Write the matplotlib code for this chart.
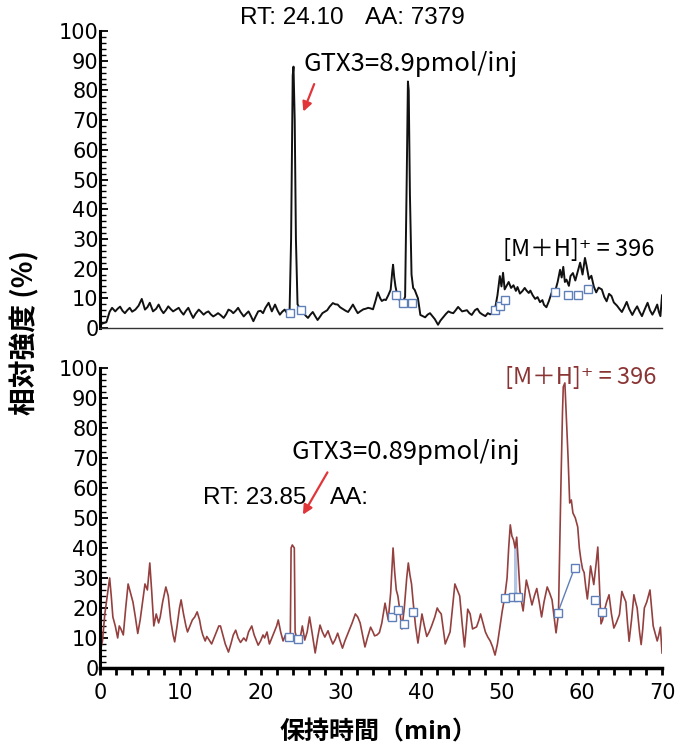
import matplotlib
matplotlib.use('Agg')
import matplotlib.pyplot as plt
from matplotlib.ticker import MultipleLocator

# Top trace: GTX3 8.9 pmol/inj, [M+H]+ = 396 (time in min, relative intensity in %)
top_time = [0.3, 0.8, 1.2, 1.5, 1.9, 2.2, 2.5, 2.8, 3.1, 3.4, 3.7, 4.0, 4.4, 4.8, 5.2, 5.6, 5.9, 6.2, 6.6, 7.0,
            7.3, 7.6, 7.9, 8.2, 8.5, 8.8, 9.1, 9.5, 9.8, 10.1, 10.4, 10.7, 11.0, 11.3, 11.6, 11.9, 12.3, 12.6, 12.9, 13.2,
            13.5, 13.8, 14.1, 14.4, 14.7, 15.0, 15.4, 15.7, 16.0, 16.3, 16.6, 16.9, 17.2, 17.5, 17.9, 18.2, 18.5, 18.8, 19.1, 19.4,
            19.7, 20.0, 20.3, 20.6, 21.0, 21.4, 21.8, 22.1, 22.4, 22.7, 23.0, 23.3, 23.6, 23.8, 24.0, 24.1, 24.25, 24.4, 24.6, 24.9,
            25.3, 25.6, 25.9, 26.2, 26.5, 26.8, 27.1, 27.4, 27.7, 28.0, 28.3, 28.6, 29.0, 29.3, 29.6, 29.9, 30.3, 30.6, 30.9, 31.2,
            31.5, 31.8, 32.1, 32.4, 32.8, 33.1, 33.4, 33.7, 34.0, 34.3, 34.6, 34.9, 35.1, 35.4, 35.6, 35.9, 36.2, 36.4, 36.5, 36.65,
            36.8, 37.1, 37.4, 37.7, 38.0, 38.2, 38.35, 38.45, 38.6, 38.8, 39.0, 39.2, 39.6, 39.9, 40.2, 40.5, 40.8, 41.1, 41.4, 41.7,
            42.1, 42.4, 42.8, 43.1, 43.4, 43.7, 44.0, 44.3, 44.6, 44.9, 45.1, 45.4, 45.7, 46.0, 46.3, 46.7, 47.0, 47.3, 47.6, 48.0,
            48.3, 48.6, 48.9, 49.2, 49.5, 49.8, 50.0, 50.2, 50.4, 50.6, 50.9, 51.2, 51.5, 51.8, 52.0, 52.3, 52.6, 52.9, 53.1, 53.4,
            53.6, 53.9, 54.2, 54.5, 54.8, 55.1, 55.3, 55.6, 55.9, 56.2, 56.4, 56.7, 57.0, 57.3, 57.5, 57.7, 57.9, 58.1, 58.4, 58.6,
            58.9, 59.2, 59.5, 59.8, 60.1, 60.4, 60.6, 60.9, 61.2, 61.5, 61.8, 62.1, 62.5, 62.8, 63.1, 63.4, 63.7, 64.0, 64.4, 64.7,
            65.0, 65.3, 65.6, 65.9, 66.3, 66.6, 66.9, 67.2, 67.5, 67.8, 68.2, 68.5, 68.8, 69.1, 69.4, 69.6, 69.8, 70.0]
top_int = [1.5, 2.0, 5.5, 6.8, 5.6, 6.5, 7.2, 5.8, 5.0, 6.0, 6.8, 5.5, 6.2, 7.5, 9.8, 6.2, 7.0, 8.5, 5.6, 6.5,
           7.9, 6.2, 5.0, 6.0, 7.3, 6.4, 5.6, 6.3, 6.8, 5.5, 4.5, 5.8, 6.8, 5.0, 3.4, 4.8, 6.2, 5.4, 4.5, 5.2,
           5.6, 4.6, 3.9, 4.4, 5.0, 4.4, 3.4, 4.6, 6.2, 5.8, 5.0, 5.8, 6.8, 5.4, 3.9, 4.8, 5.6, 4.0, 2.3, 4.0,
           5.6, 5.8, 5.0, 6.8, 8.5, 5.6, 7.9, 6.0, 4.5, 5.5, 6.2, 5.0, 4.5, 30.0, 85.0, 88.0, 70.0, 30.0, 8.0, 6.5,
           5.4, 4.2, 3.4, 4.5, 5.4, 4.0, 2.7, 3.8, 5.0, 5.5, 6.0, 7.2, 8.4, 8.0, 7.9, 7.0, 6.3, 5.8, 5.4, 6.6,
           7.9, 6.4, 5.0, 5.6, 6.3, 6.5, 6.8, 6.6, 6.3, 9.0, 12.0, 10.0, 9.1, 9.6, 9.4, 11.0, 12.9, 19.0, 21.3, 17.0,
           14.0, 10.0, 9.2, 8.7, 10.5, 50.0, 83.0, 80.0, 45.0, 18.0, 13.5, 12.8, 10.0, 4.4, 4.0, 3.6, 4.5, 5.0, 4.0, 3.0,
           1.1, 2.5, 3.8, 4.8, 5.6, 5.2, 5.0, 6.0, 7.1, 6.2, 5.6, 5.8, 6.0, 5.0, 4.4, 6.0, 6.5, 5.2, 4.6, 4.0,
           5.0, 4.6, 5.0, 6.5, 11.0, 17.5, 14.0, 18.6, 13.0, 14.0, 15.5, 13.5, 14.4, 12.5, 13.8, 11.6, 12.4, 13.5, 12.7, 11.8,
           12.6, 11.0, 9.8, 10.4, 8.7, 9.4, 7.8, 7.0, 9.0, 11.5, 12.8, 12.5, 15.5, 19.6, 17.0, 20.6, 15.5, 16.3, 14.2, 17.5,
           18.5, 16.0, 19.0, 22.0, 18.0, 23.6, 21.0, 16.5, 17.6, 14.0, 12.0, 13.6, 13.0, 10.5, 9.0, 11.5, 10.8, 8.6, 7.5, 6.4,
           5.4, 7.0, 8.8, 6.5, 4.4, 6.0, 7.3, 5.5, 4.0, 6.0, 8.5, 6.0, 4.5, 6.0, 7.9, 5.5, 4.0, 11.0]
top_mark_time = [23.7, 25.0, 36.9, 37.7, 38.9, 49.2, 49.8, 50.4, 56.7, 58.3, 59.5, 60.8]
top_mark_int = [5.0, 6.2, 11.0, 8.5, 8.5, 6.0, 7.4, 9.5, 12.0, 11.0, 11.0, 13.0]

# Bottom trace: GTX3 0.89 pmol/inj
bot_time = [0.0, 0.3, 0.6, 0.9, 1.2, 1.4, 1.6, 1.9, 2.2, 2.4, 2.6, 2.9, 3.2, 3.5, 3.8, 4.1, 4.4, 4.7, 5.0, 5.3,
            5.6, 5.9, 6.2, 6.45, 6.7, 7.0, 7.3, 7.5, 7.8, 8.2, 8.5, 8.8, 9.1, 9.3, 9.6, 9.9, 10.1, 10.4, 10.7, 10.9,
            11.2, 11.5, 11.8, 12.1, 12.4, 12.6, 12.8, 13.1, 13.3, 13.6, 13.9, 14.2, 14.5, 14.8, 15.0, 15.3, 15.6, 16.0, 16.3, 16.6,
            16.9, 17.2, 17.5, 17.9, 18.2, 18.5, 18.9, 19.2, 19.5, 19.7, 20.0, 20.3, 20.5, 20.8, 21.1, 21.4, 21.7, 22.0, 22.2, 22.5,
            22.8, 23.1, 23.4, 23.7, 23.8, 23.95, 24.2, 24.3, 24.5, 24.7, 25.0, 25.2, 25.5, 25.8, 26.1, 26.4, 26.8, 27.1, 27.4, 27.7,
            28.0, 28.4, 28.7, 29.0, 29.3, 29.6, 29.9, 30.2, 30.5, 30.8, 31.1, 31.4, 31.8, 32.1, 32.4, 32.7, 33.0, 33.3, 33.7, 34.0,
            34.2, 34.5, 34.8, 35.1, 35.5, 35.9, 36.2, 36.5, 36.7, 36.9, 37.1, 37.3, 37.6, 37.9, 38.2, 38.4, 38.6, 38.8, 39.0, 39.3,
            39.6, 39.9, 40.1, 40.4, 40.7, 41.0, 41.3, 41.7, 42.0, 42.2, 42.5, 42.8, 43.0, 43.3, 43.6, 43.9, 44.2, 44.5, 44.8, 45.1,
            45.4, 45.6, 45.8, 46.1, 46.4, 46.9, 47.2, 47.4, 47.8, 48.0, 48.3, 48.6, 48.9, 49.2, 49.5, 49.8, 50.1, 50.4, 50.7, 50.9,
            51.1, 51.3, 51.5, 51.7, 51.9, 52.1, 52.3, 52.5, 52.7, 52.9, 53.1, 53.4, 53.8, 54.1, 54.4, 54.7, 55.0, 55.3, 55.7, 56.0,
            56.3, 56.6, 56.8, 57.1, 57.4, 57.6, 57.7, 57.9, 58.1, 58.3, 58.5, 58.7, 58.9, 59.2, 59.5, 59.7, 59.9, 60.1, 60.3, 60.5,
            60.7, 60.9, 61.1, 61.3, 61.5, 61.8, 62.0, 62.2, 62.4, 62.6, 62.8, 63.1, 63.4, 63.7, 64.0, 64.3, 64.7, 65.0, 65.2, 65.5,
            65.7, 65.9, 66.2, 66.5, 66.7, 66.9, 67.2, 67.4, 67.6, 67.8, 68.1, 68.5, 68.7, 68.9, 69.2, 69.4, 69.6, 69.8, 70.0]
bot_int = [5.0, 9.0, 18.0, 24.0, 30.0, 24.0, 17.0, 14.0, 10.0, 14.0, 13.0, 11.0, 20.0, 28.0, 25.0, 22.0, 17.0, 11.5, 16.0, 22.0,
           28.0, 26.0, 35.0, 25.0, 14.0, 18.0, 15.0, 17.0, 22.0, 27.0, 24.0, 16.0, 11.0, 8.7, 14.0, 20.0, 22.7, 18.0, 14.0, 12.0,
           14.0, 16.0, 17.0, 18.7, 16.0, 13.0, 11.0, 9.0, 10.5, 9.3, 8.0, 10.0, 12.0, 14.0, 14.0, 11.0, 8.0, 5.3, 8.0, 11.0,
           12.6, 10.0, 8.5, 10.0, 9.0, 12.0, 14.0, 11.0, 9.0, 7.6, 9.0, 11.0, 10.0, 12.0, 8.0, 10.0, 12.0, 14.0, 16.0, 12.0,
           9.0, 11.0, 9.5, 10.0, 40.0, 41.0, 40.0, 12.0, 10.0, 9.7, 11.0, 14.0, 9.3, 12.0, 17.0, 12.0, 5.0, 10.0, 14.3, 12.0,
           10.3, 12.4, 10.0, 8.0, 9.5, 11.6, 9.0, 6.6, 9.0, 11.0, 13.0, 15.0, 18.0, 17.0, 15.0, 11.0, 7.0, 10.0, 13.6, 12.0,
           10.7, 11.0, 11.8, 15.0, 21.6, 16.0, 25.0, 40.0, 32.0, 26.0, 24.0, 20.0, 13.0, 20.0, 30.0, 35.0, 31.0, 28.0, 22.0, 14.0,
           8.3, 14.0, 18.0, 14.0, 10.5, 12.0, 14.0, 17.0, 20.0, 19.0, 18.0, 12.0, 8.0, 10.0, 12.0, 20.0, 28.0, 26.0, 24.0, 15.0,
           7.0, 13.0, 19.6, 18.0, 13.0, 13.7, 16.0, 18.0, 14.0, 12.0, 10.3, 9.0, 7.0, 4.3, 8.0, 13.6, 19.0, 23.5, 30.0, 40.0,
           47.7, 44.0, 42.7, 40.0, 43.6, 35.0, 25.8, 22.0, 19.0, 24.0, 29.3, 26.0, 21.0, 24.0, 26.5, 22.0, 17.0, 22.0, 27.0, 25.0,
           22.7, 16.0, 11.7, 18.0, 60.0, 85.0, 93.7, 95.0, 82.7, 70.0, 55.0, 56.0, 51.7, 50.0, 47.0, 40.0, 36.0, 33.0, 31.8, 27.0,
           23.0, 28.0, 34.0, 31.0, 27.8, 35.0, 40.3, 28.0, 14.7, 16.0, 19.0, 22.0, 24.4, 18.0, 13.3, 15.0, 17.8, 25.5, 24.0, 22.0,
           15.0, 8.9, 16.0, 24.4, 22.0, 20.0, 12.0, 7.8, 13.0, 20.0, 22.0, 26.0, 20.0, 14.0, 11.0, 9.0, 11.0, 13.6, 5.0]
bot_mark_time = [23.6, 24.6, 36.4, 37.1, 37.8, 39.0, 50.4, 51.4, 52.0, 57.0, 59.1, 61.6, 62.5]
bot_mark_int = [10.3, 9.7, 17.0, 19.3, 14.7, 18.7, 23.3, 23.6, 23.6, 18.3, 33.3, 22.7, 18.7]

num_font = 'DejaVu Sans'
txt_font = 'Liberation Sans'
jp_font = ['Noto Sans CJK JP', 'DejaVu Sans']
mark_col = '#5f7fb8'
trace_red = '#94403f'
arrow_red = '#e2353a'

fig = plt.figure(figsize=(6.79, 7.45), dpi=100)
ax1 = fig.add_axes([0.1473, 0.5597, 0.8277, 0.3987])
ax2 = fig.add_axes([0.1473, 0.1034, 0.8277, 0.4027])

for ax in (ax1, ax2):
    ax.set_xlim(0, 70)
    ax.set_ylim(0, 100)
    ax.spines['top'].set_visible(False)
    ax.spines['right'].set_visible(False)
    ax.spines['left'].set_linewidth(2.2)
    ax.yaxis.set_major_locator(MultipleLocator(10))
    ax.yaxis.set_minor_locator(MultipleLocator(2))
    ax.tick_params(axis='y', which='major', direction='in', length=6, width=1.3, pad=1,
                   labelsize=15, left=True)
    ax.tick_params(axis='y', which='minor', direction='in', length=4, width=1.0)
    for lab in ax.get_yticklabels():
        lab.set_fontfamily(num_font)

# top panel
ax1.plot(top_time, top_int, color='#111111', lw=1.4, zorder=2)
ax1.plot(top_mark_time, top_mark_int, ls='none', marker='s', ms=5.5, mfc='white',
         mec=mark_col, mew=1.0, zorder=3)
ax1.spines['bottom'].set_linewidth(1.0)
ax1.spines['bottom'].set_color('#333333')
ax1.tick_params(axis='x', which='both', bottom=False, labelbottom=False)

ax1.text(17.4, 104.5, 'RT: 24.10', fontsize=17.5, family=txt_font, va='center', clip_on=False)
ax1.text(33.0, 104.5, 'AA: 7379', fontsize=17.5, family=txt_font, va='center', clip_on=False)
ax1.text(25.3, 89, 'GTX3=8.9pmol/inj', fontsize=18.5, family=jp_font, va='center')
ax1.text(50.2, 26.4, '[M＋H]⁺ = 396', fontsize=17, family=jp_font, va='center')
ax1.annotate('', xy=(25.2, 72), xytext=(26.8, 83),
             arrowprops=dict(arrowstyle='-|>', color=arrow_red, lw=1.6, mutation_scale=14))

# bottom panel
bot_fill_t = [t for t in bot_time if 51.4 <= t <= 52.0]
bot_fill_y = [y for t, y in zip(bot_time, bot_int) if 51.4 <= t <= 52.0]
ax2.fill_between(bot_fill_t, 23.6, bot_fill_y, color='#7f9fd0', alpha=0.6, lw=0, zorder=1)
ax2.plot(bot_time, bot_int, color=trace_red, lw=1.2, zorder=2)
ax2.plot(bot_mark_time[9:11], bot_mark_int[9:11], color=mark_col, lw=1.0, zorder=3)
ax2.plot(bot_mark_time, bot_mark_int, ls='none', marker='s', ms=5.5, mfc='white',
         mec=mark_col, mew=1.0, zorder=4)
ax2.spines['bottom'].set_linewidth(2.5)
ax2.xaxis.set_major_locator(MultipleLocator(10))
ax2.xaxis.set_minor_locator(MultipleLocator(2))
ax2.tick_params(axis='x', which='both', direction='out', length=5, width=2.0, pad=6, labelsize=15)
for lab in ax2.get_xticklabels():
    lab.set_fontfamily(num_font)

ax2.text(50.4, 96.7, '[M＋H]⁺ = 396', fontsize=17, family=jp_font, va='center', color='#8a3535')
ax2.text(23.9, 72, 'GTX3=0.89pmol/inj', fontsize=18.5, family=jp_font, va='center')
ax2.text(12.8, 56.7, 'RT: 23.85', fontsize=17.5, family=txt_font, va='center')
ax2.text(28.6, 56.7, 'AA:', fontsize=17.5, family=txt_font, va='center')
ax2.annotate('', xy=(25.1, 50.3), xytext=(28.5, 66),
             arrowprops=dict(arrowstyle='-|>', color=arrow_red, lw=1.6, mutation_scale=14))

fig.text(0.036, 0.554, '相対強度 (%)', rotation=90, fontsize=20, fontweight='bold',
         family=jp_font, ha='center', va='center')
fig.text(0.558, 0.017, '保持時間（min）', fontsize=18, fontweight='bold',
         family=jp_font, ha='center', va='center')

fig.savefig('out.png', dpi=100)
